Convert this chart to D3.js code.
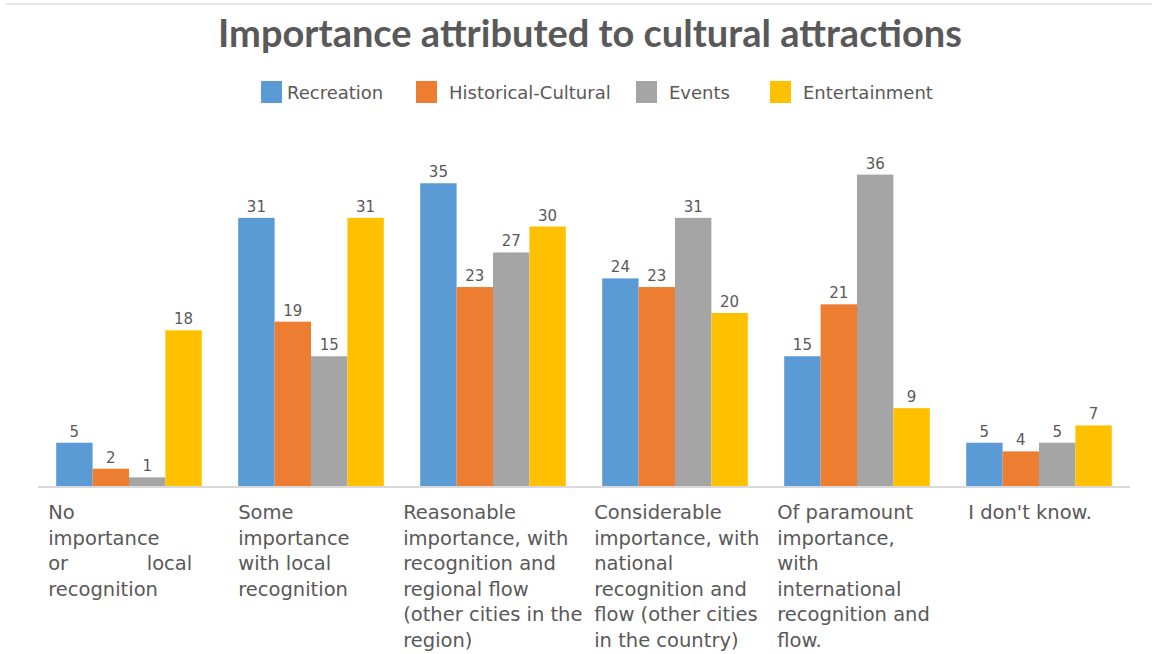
<!DOCTYPE html>
<html>
<head>
<meta charset="utf-8">
<script src="https://cdn.jsdelivr.net/npm/d3@7"></script>
<style>
  html, body { margin: 0; padding: 0; background: #fff; }
  svg { display: block; }
</style>
</head>
<body>
<svg id="chart" width="1152" height="654"></svg>
<script>
// ---- data ----
const categories = [
  "No importance or local recognition",
  "Some importance with local recognition",
  "Reasonable importance, with recognition and regional flow (other cities in the region)",
  "Considerable importance, with national recognition and flow (other cities in the country)",
  "Of paramount importance, with international recognition and flow.",
  "I don't know."
];
// line breaks used for the category labels under the axis
const categoryLines = [
  ["No", "importance", "or local", "recognition"],
  ["Some", "importance", "with local", "recognition"],
  ["Reasonable", "importance, with", "recognition and", "regional flow", "(other cities in the", "region)"],
  ["Considerable", "importance, with", "national", "recognition and", "flow (other cities", "in the country)"],
  ["Of paramount", "importance,", "with", "international", "recognition and", "flow."],
  ["I don't know."]
];
const seriesNames = ["Recreation", "Historical-Cultural", "Events", "Entertainment"];
const recreation         = [5, 31, 35, 24, 15, 5];
const historicalCultural = [2, 19, 23, 23, 21, 4];
const events             = [1, 15, 27, 31, 36, 5];
const entertainment      = [18, 31, 30, 20, 9, 7];
const seriesValues = [recreation, historicalCultural, events, entertainment];
const seriesColors = ["#5B9BD5", "#ED7D31", "#A5A5A5", "#FFC000"];

// ---- layout ----
const svg = d3.select("#chart");
const textColor = "#595959";
const axisLeft = 38, axisRight = 1130, baseline = 486;

// faint frame line along the top
svg.append("line")
  .attr("x1", 6).attr("x2", 1152).attr("y1", 4).attr("y2", 4)
  .attr("stroke", "#e6e6e6").attr("stroke-width", 2);

const x0 = d3.scaleBand()
  .domain(d3.range(categories.length))
  .range([axisLeft, axisRight])
  .paddingInner(0.2)
  .paddingOuter(0.1);

const x1 = d3.scaleBand()
  .domain(d3.range(seriesNames.length))
  .range([0, x0.bandwidth()]);

const y = d3.scaleLinear().domain([0, 40]).range([baseline, 140]);

// title
svg.append("text")
  .attr("x", 590).attr("y", 47)
  .attr("text-anchor", "middle")
  .attr("font-family", "Lato, 'DejaVu Sans', sans-serif")
  .attr("font-weight", "bold")
  .attr("font-size", 38)
  .attr("fill", textColor)
  .text("Importance attributed to cultural attractions");

// legend
const legendX = [261, 416, 636, 770];
const legend = svg.append("g").attr("class", "legend");
seriesNames.forEach((name, i) => {
  const g = legend.append("g").attr("transform", `translate(${legendX[i]},81)`);
  g.append("rect").attr("width", 21).attr("height", 22).attr("fill", seriesColors[i]);
  g.append("text")
    .attr("x", i === 0 ? 26 : 33).attr("y", 18)
    .attr("font-family", "'DejaVu Sans', sans-serif")
    .attr("font-size", 18)
    .attr("fill", textColor)
    .text(name);
});

// bars
const groups = svg.append("g").selectAll("g")
  .data(categories.map((c, ci) => ({ ci, values: seriesValues.map(s => s[ci]) })))
  .join("g")
  .attr("transform", d => `translate(${x0(d.ci)},0)`);

groups.selectAll("rect")
  .data(d => d.values.map((v, si) => ({ v, si })))
  .join("rect")
  .attr("x", d => x1(d.si))
  .attr("y", d => y(d.v))
  .attr("width", x1.bandwidth())
  .attr("height", d => baseline - y(d.v))
  .attr("fill", d => seriesColors[d.si]);

groups.selectAll("text.value")
  .data(d => d.values.map((v, si) => ({ v, si })))
  .join("text")
  .attr("class", "value")
  .attr("x", d => x1(d.si) + x1.bandwidth() / 2)
  .attr("y", d => y(d.v) - 6)
  .attr("text-anchor", "middle")
  .attr("font-family", "'DejaVu Sans', sans-serif")
  .attr("font-size", 15)
  .attr("fill", textColor)
  .text(d => d.v);

// axis line
svg.append("line")
  .attr("x1", axisLeft).attr("x2", axisRight)
  .attr("y1", baseline + 1).attr("y2", baseline + 1)
  .attr("stroke", "#d9d9d9").attr("stroke-width", 2);

// category labels: left-aligned text blocks under each group
const labelFont = "'DejaVu Sans', sans-serif";
const labelSize = 19.5;
const lineHeight = 25.5;
const labelOffset = [-8, 0, -17, -8, -7, 2];   // block left edge relative to the group's band
const justifyWidth = 144;                      // first block is set justified
categoryLines.forEach((lines, ci) => {
  const g = svg.append("g");
  const left = x0(ci) + labelOffset[ci];
  lines.forEach((line, li) => {
    const yy = 519 + li * lineHeight;
    const words = line.split(" ");
    if (ci === 0 && words.length > 1 && li < lines.length - 1) {
      const tw = words.map(w => {
        const t = g.append("text").attr("font-family", labelFont).attr("font-size", labelSize).text(w);
        const w0 = t.node().getComputedTextLength();
        t.remove();
        return w0;
      });
      const gap = (justifyWidth - d3.sum(tw)) / (words.length - 1);
      let cx = left;
      words.forEach((w, wi) => {
        g.append("text")
          .attr("x", cx).attr("y", yy)
          .attr("font-family", labelFont).attr("font-size", labelSize)
          .attr("fill", textColor).text(w);
        cx += tw[wi] + gap;
      });
    } else {
      g.append("text")
        .attr("x", left).attr("y", yy)
        .attr("font-family", labelFont)
        .attr("font-size", labelSize)
        .attr("fill", textColor)
        .text(line);
    }
  });
});
</script>
</body>
</html>
